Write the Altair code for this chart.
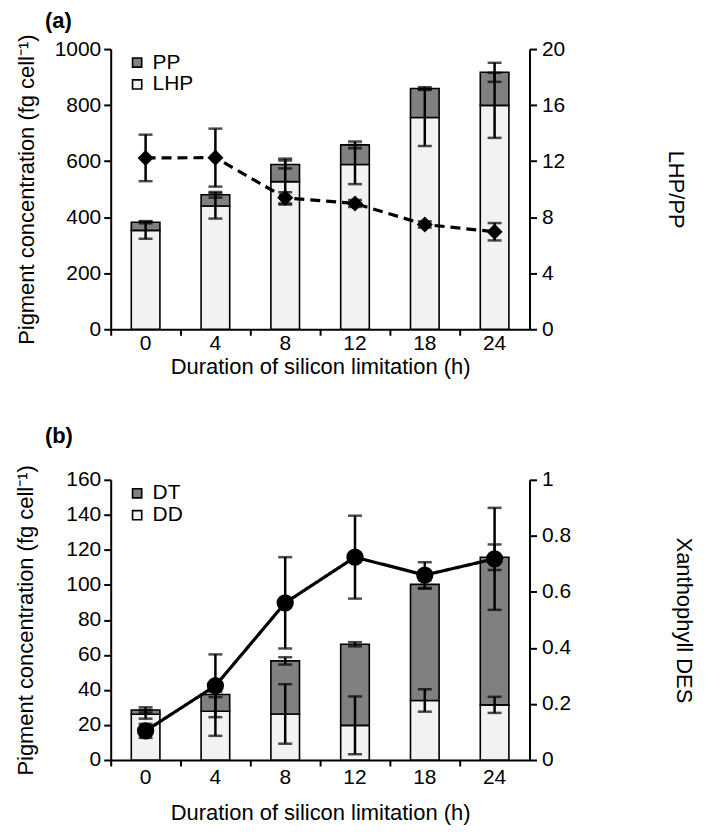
import altair as alt
import pandas as pd

hours = ["0", "4", "8", "12", "18", "24"]

# Panel (a)
lhp = [353, 440, 527, 588, 756, 799]
pp = [29, 40, 61, 70, 103, 118]
lhp_err = [30, 45, 82, 70, 102, 116]
total_a_err = [4, 10, 14, 12, 5, 34]
ratio = [12.23, 12.25, 9.38, 8.98, 7.48, 6.96]
ratio_err = [1.66, 2.07, 0.40, 0.25, 0.22, 0.62]

# Panel (b)
dd = [26.1, 27.8, 26.3, 19.8, 34.0, 31.5]
dt = [2.5, 9.6, 30.3, 46.3, 66.3, 84.3]
dd_err = [2.5, 14.0, 17.0, 16.5, 6.4, 4.6]
total_b_err = [1.5, 1.5, 2.1, 1.2, 2.5, 7.3]
des = [0.104, 0.265, 0.561, 0.724, 0.660, 0.718]
des_err = [0.025, 0.112, 0.163, 0.148, 0.046, 0.182]

FONT = "Liberation Sans"
DARK = "#808080"
LIGHT = "#f2f2f2"
W, H = 420, 281
LFS = 21
TFS = 22


def panel(tag, lower_name, upper_name, lower, upper, lower_err, total_err,
          line_vals, line_err, left_max, left_step, right_max, right_step,
          right_title, dash, shape, psize, lpad, rpad, toff, xlpad, xtpad):
    bars = pd.DataFrame(
        [{"hour": h, "pigment": lower_name, "value": v, "ord": 0} for h, v in zip(hours, lower)]
        + [{"hour": h, "pigment": upper_name, "value": v, "ord": 1} for h, v in zip(hours, upper)]
    )
    errs = pd.DataFrame(
        [{"hour": h, "lo": c - e, "hi": c + e} for h, c, e in zip(hours, lower, lower_err)]
        + [{"hour": h, "lo": l + u - e, "hi": l + u + e}
           for h, l, u, e in zip(hours, lower, upper, total_err)]
    )
    line = pd.DataFrame({"hour": hours, "v": line_vals,
                         "lo": [a - b for a, b in zip(line_vals, line_err)],
                         "hi": [a + b for a, b in zip(line_vals, line_err)]})

    x = alt.X("hour:N", sort=hours, title="Duration of silicon limitation (h)",
              scale=alt.Scale(paddingInner=0, paddingOuter=0),
              axis=alt.Axis(labelAngle=0, bandPosition=0, titlePadding=xtpad,
                            labelPadding=xlpad, tickSize=6))
    yscale_l = alt.Scale(domain=[0, left_max], nice=False)
    yl_axis = alt.Axis(values=list(range(0, left_max + 1, left_step)), format="d",
                       title="Pigment concentration (fg cell\u207b\u00b9)", titlePadding=lpad)
    nvals = int(round(right_max / right_step))
    yr_axis = alt.Axis(orient="right", values=[round(i * right_step, 3) for i in range(nvals + 1)],
                       format="~g", title=right_title, titlePadding=rpad, labelPadding=5)
    yscale_r = alt.Scale(domain=[0, right_max], nice=False)

    bar = alt.Chart(bars).mark_bar(stroke="black", strokeWidth=1.6, width={"band": 0.41}).encode(
        x=x,
        y=alt.Y("sum(value):Q", scale=yscale_l, axis=yl_axis, stack="zero"),
        color=alt.Color("pigment:N", scale=alt.Scale(domain=[upper_name, lower_name], range=[DARK, LIGHT]),
                        legend=alt.Legend(orient="none", legendX=16, legendY=3, title=None,
                                          symbolType="square", symbolSize=85,
                                          symbolStrokeColor="black", symbolStrokeWidth=1.6,
                                          labelFont=FONT, labelFontSize=LFS, labelColor="black",
                                          rowPadding=0, labelOffset=5)),
        order=alt.Order("ord:Q", sort="ascending"),
    )
    ey = alt.Y("lo:Q", scale=yscale_l, axis=yl_axis)
    erule = alt.Chart(errs).mark_rule(color="black", strokeWidth=2.5).encode(x=x, y=ey, y2="hi:Q")
    etick_lo = alt.Chart(errs).mark_tick(color="black", thickness=2.5, size=14).encode(x=x, y=ey)
    etick_hi = alt.Chart(errs).mark_tick(color="black", thickness=2.5, size=14).encode(
        x=x, y=alt.Y("hi:Q", scale=yscale_l, axis=yl_axis))
    left = alt.layer(bar, erule, etick_lo, etick_hi)

    yr = alt.Y("v:Q", scale=yscale_r, axis=yr_axis)
    lmark = alt.Chart(line).mark_line(color="black", strokeWidth=3.2, strokeDash=dash).encode(x=x, y=yr)
    lrule = alt.Chart(line).mark_rule(color="black", strokeWidth=2.5).encode(
        x=x, y=alt.Y("lo:Q", scale=yscale_r, axis=yr_axis), y2="hi:Q")
    ltlo = alt.Chart(line).mark_tick(color="black", thickness=2.5, size=14).encode(
        x=x, y=alt.Y("lo:Q", scale=yscale_r, axis=yr_axis))
    lthi = alt.Chart(line).mark_tick(color="black", thickness=2.5, size=14).encode(
        x=x, y=alt.Y("hi:Q", scale=yscale_r, axis=yr_axis))
    pts = alt.Chart(line).mark_point(shape=shape, filled=True, color="black", size=psize, opacity=1).encode(
        x=x, y=yr)
    right = alt.layer(lmark, lrule, ltlo, lthi, pts)

    return alt.layer(left, right).resolve_scale(y="independent").properties(
        width=W, height=H,
        title=alt.TitleParams(tag, anchor="start", frame="group", dx=-66, fontSize=TFS,
                              fontWeight="bold", font=FONT, color="black", offset=toff),
    )


pa = panel("(a)", "LHP", "PP", lhp, pp, lhp_err, total_a_err, ratio, ratio_err,
           1000, 200, 20, 4, "LHP/PP", [10, 6], "diamond", 260, 16, 99, 1, -3, 3)
pb = panel("(b)", "DD", "DT", dd, dt, dd_err, total_b_err, des, des_err,
           160, 20, 1.0, 0.2, "Xanthophyll DES", [1, 0], "circle", 300, 28, 101, 17, 1, 15)

chart = alt.vconcat(pa, pb, spacing=47).resolve_scale(color="independent").properties(
    padding={"left": 6, "top": 0, "right": 6, "bottom": 0}
).configure_view(stroke=None).configure_axis(
    labelFont=FONT, labelFontSize=LFS, labelColor="black", titleFont=FONT, titleFontSize=TFS,
    titleFontWeight="normal", titleColor="black", domainColor="black", domainWidth=2,
    tickColor="black", tickWidth=2, tickSize=7, labelPadding=3, grid=False,
)

chart.save("out.html", embed_options={"renderer": "svg", "actions": False})
